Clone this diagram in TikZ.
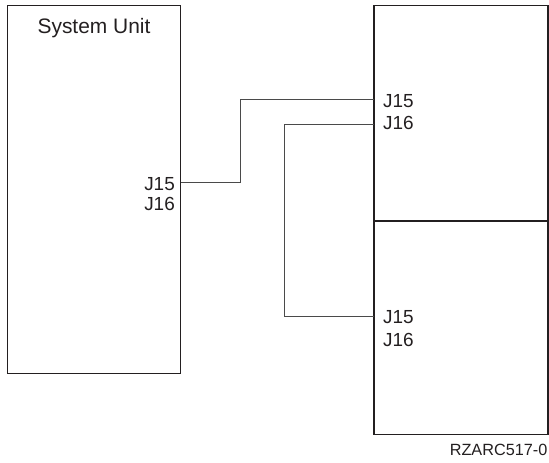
\documentclass[tikz,border=0pt]{standalone}
\usepackage{fontspec}
\setmainfont{Liberation Sans}
\definecolor{ink}{HTML}{231F20}
\definecolor{wirec}{HTML}{4A4A4A}
\tikzset{
  box/.style={draw=ink, line width=1.1bp, inner sep=0pt, outer sep=0pt, anchor=north west},
  wire/.style={draw=wirec, line width=0.9bp},
  lbl/.style={font=\fontsize{19}{19}\selectfont, text=ink, inner sep=0pt},
}
\begin{document}
\begin{tikzpicture}[x=1bp,y=-1bp]
\useasboundingbox (0,0) rectangle (549,463);
% boxes
\node[box, minimum width=173bp, minimum height=368bp] (su) at (7.5,5.5) {};
\node[box, minimum width=174bp, minimum height=215bp] (rt) at (374,5.5) {};
\node[box, minimum width=174bp, minimum height=214bp] (rb) at (374,220.5) {};
\draw[ink, line width=2bp] (rt.south west) -- (rt.south east);
% titles
\node[font=\fontsize{21}{21}\selectfont, text=ink, inner sep=0pt, anchor=base] (sut) at (94,33.3) {System Unit};
% labels
\node[lbl, anchor=base east] (s15) at (175,190.7) {J15};
\node[lbl, anchor=base east] (s16) at (175,210.5) {J16};
\node[lbl, anchor=base west] (t15) at (383,107.7) {J15};
\node[lbl, anchor=base west] (t16) at (383,129.5) {J16};
\node[lbl, anchor=base west] (b15) at (383,323.3) {J15};
\node[lbl, anchor=base west] (b16) at (383,346.5) {J16};
\node[font=\fontsize{16.3}{16.3}\selectfont, text=ink, inner sep=0pt, anchor=base east] (ref) at (547.5,455) {RZARC517-0};
% connectors
\draw[wire] (su.east |- 0,182.5) -| (240,99) -- (rt.west |- 0,99);
\draw[wire] (rt.west |- 0,124) -| (284,316) -- (rb.west |- 0,316);
\end{tikzpicture}
\end{document}
